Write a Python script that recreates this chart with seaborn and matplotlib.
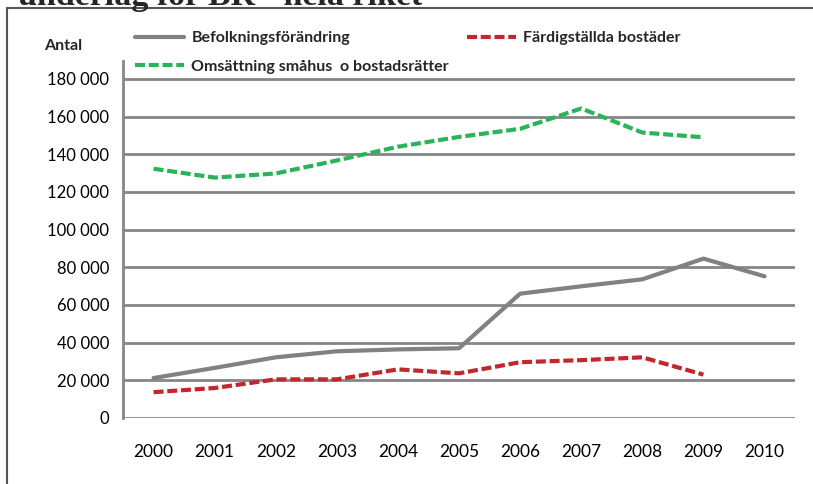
"""
plot.py

befolkning, bostäder och omsättning - hela riket
"""

import matplotlib.pyplot as plt
import matplotlib.lines as mlines
import pandas as pd
import seaborn as sns

years = [2000, 2001, 2002, 2003, 2004, 2005, 2006, 2007, 2008, 2009, 2010]

befolkning = [21200, 26600, 32200, 35400, 36400, 37000, 66000, 69900, 73600, 84600, 75200]
bostader = [13700, 15900, 20500, 20500, 25800, 23700, 29600, 30700, 32200, 23000]
omsattning = [132300, 127600, 129800, 136700, 144000, 149200, 153500, 164300, 151500, 149000]

labels = ["Befolkningsförändring", "Färdigställda bostäder",
          "Omsättning småhus  o bostadsrätter"]
colors = ["#808085", "#C1272D", "#2BB35A"]

df = pd.concat([
    pd.DataFrame({"år": years, "antal": befolkning, "serie": labels[0]}),
    pd.DataFrame({"år": years[:len(bostader)], "antal": bostader, "serie": labels[1]}),
    pd.DataFrame({"år": years[:len(omsattning)], "antal": omsattning, "serie": labels[2]}),
])

sns.set_theme(style="white")
plt.rcParams["font.family"] = ["Lato", "DejaVu Sans"]

fig = plt.figure(figsize=(8.13, 4.84), dpi=100)
ax = fig.add_axes([0.1513, 0.1364, 0.8267, 0.7376])

dash = (2.4, 0.9)
sns.lineplot(data=df, x="år", y="antal", hue="serie", style="serie",
             palette=dict(zip(labels, colors)),
             dashes={labels[0]: "", labels[1]: dash, labels[2]: dash},
             linewidth=3.0, legend=False, ax=ax)

ax.set_xlim(years[0] - 0.5, years[-1] + 0.5)
ax.set_ylim(0, 189500)
yt = list(range(0, 180001, 20000))
ax.set_yticks(yt)
ax.set_yticklabels(["{:,}".format(v).replace(",", " ") for v in yt], fontsize=12)
ax.set_xticks(years)
ax.set_xticklabels([str(y) for y in years], fontsize=12.5)
ax.set_xticks([y - 0.5 for y in years] + [years[-1] + 0.5], minor=True)
ax.tick_params(axis="x", which="major", length=0, pad=19, colors="black")
ax.tick_params(axis="x", which="minor", length=6, width=2, color="#868686", direction="out")
ax.tick_params(axis="y", length=6, width=2, color="#868686", pad=4)
for lab in ax.get_yticklabels() + ax.get_xticklabels():
    lab.set_color("black")

for v in yt:
    ax.axhline(v, color="#868686", linewidth=2, zorder=0)
for side in ["top", "right", "bottom"]:
    ax.spines[side].set_visible(False)
ax.spines["left"].set_color("#868686")
ax.spines["left"].set_linewidth(2)
ax.set_xlabel("")
ax.set_ylabel("")

fig.text(0.054, 0.905, "Antal", fontsize=11.5, fontweight="bold", va="center")

# legend, row-wise
handles = [
    mlines.Line2D([], [], color=colors[0], linewidth=3.0),
    mlines.Line2D([], [], color=colors[2], linewidth=3.0, dashes=dash),
    mlines.Line2D([], [], color=colors[1], linewidth=3.0, dashes=dash),
]
leg = fig.legend(handles, [labels[0], labels[2], labels[1]], ncol=2,
                 loc="upper left", bbox_to_anchor=(0.148, 0.965),
                 frameon=False, handlelength=3.1, handletextpad=0.45,
                 columnspacing=1.1, labelspacing=0.87,
                 prop={"weight": "bold", "size": 11.5})

# cut-off heading and frame from the page
fig.text(0.022, 0.99, "underlag för BR - hela riket", fontsize=24.5,
         fontweight="bold", family="Liberation Serif", va="baseline")
fig.add_artist(mlines.Line2D([0.0086, 1.0], [0.983, 0.983], color="#555555", linewidth=1.5))
fig.add_artist(mlines.Line2D([0.0086, 0.0086], [0.0, 0.983], color="#555555", linewidth=1.5))

fig.savefig("out.png", dpi=100)
